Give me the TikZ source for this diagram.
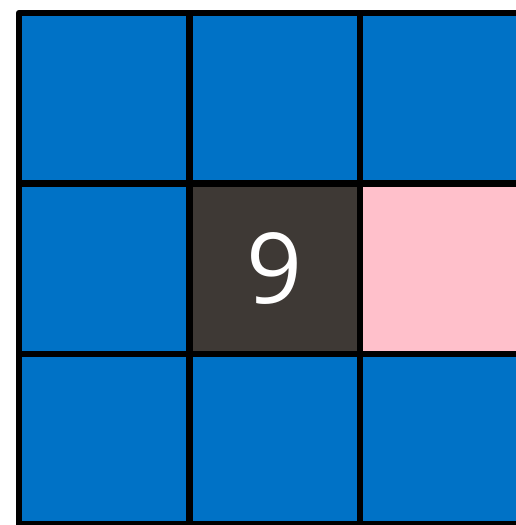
\documentclass[tikz,border=0pt]{standalone}
\usepackage{fontspec}
\setmainfont{Open Sans}
\usepackage{tikz}
\definecolor{CellBlue}{RGB}{0,114,198}
\definecolor{CellDark}{RGB}{62,57,53}
\definecolor{CellPink}{RGB}{255,192,203}

\begin{document}
\begin{tikzpicture}[x=1pt,y=-1pt]
        \useasboundingbox (0,0) rectangle (516,525);
        \begin{scope}
          \clip (0,0) rectangle (516,525);
          \fill[CellBlue] (19,13) rectangle (530.5,524.5);
          \fill[CellDark] (189.5,183.5) rectangle (360,354);
          \fill[CellPink] (360,183.5) rectangle (530.5,354);
          \draw[line width=6.5pt, line join=round] (19,13) rectangle (530.5,524.5);
          \foreach \gx in {189.5,360}
            \draw[line width=6.5pt] (\gx,13) -- (\gx,524.5);
          \foreach \gy in {183.5,354}
            \draw[line width=6.5pt] (19,\gy) -- (530.5,\gy);
        \end{scope}
        \node[white, font=\fontsize{98}{98}\selectfont] (nine) at (274.75,268.75) {9};
      \end{tikzpicture}
\end{document}
